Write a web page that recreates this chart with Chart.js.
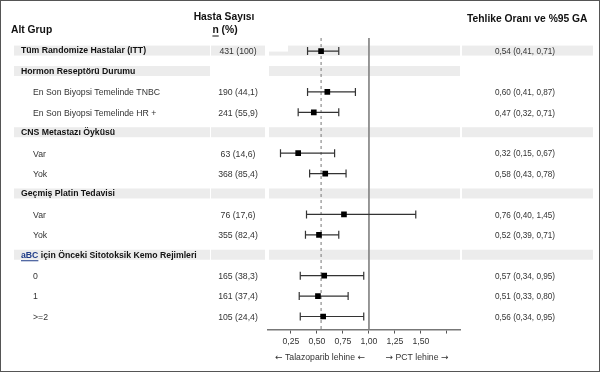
<!DOCTYPE html>
<html>
<head>
<meta charset="utf-8">
<script src="https://cdn.jsdelivr.net/npm/chart.js@4.4.0/dist/chart.umd.min.js"></script>
<style>
  html, body { margin: 0; padding: 0; background: #fff; }
</style>
</head>
<body>
<canvas id="forest" width="601" height="373"></canvas>
<script>
// rows, top to bottom
const rowLabels = [
  "Tüm Randomize Hastalar (ITT)",
  "Hormon Reseptörü Durumu",
  "En Son Biyopsi Temelinde TNBC",
  "En Son Biyopsi Temelinde HR +",
  "CNS Metastazı Öyküsü",
  "Var",
  "Yok",
  "Geçmiş Platin Tedavisi",
  "Var",
  "Yok",
  "aBC için Önceki Sitotoksik Kemo Rejimleri",
  "0",
  "1",
  ">=2"
];
const rowIsHeader = [true, true, false, false, true, false, false, true, false, false, true, false, false, false];
const patientCounts = ["431 (100)", "", "190 (44,1)", "241 (55,9)", "", "63 (14,6)", "368 (85,4)", "", "76 (17,6)", "355 (82,4)", "", "165 (38,3)", "161 (37,4)", "105 (24,4)"];
const hazardRatio = [0.54, null, 0.60, 0.47, null, 0.32, 0.58, null, 0.76, 0.52, null, 0.57, 0.51, 0.56];
const ciLower     = [0.41, null, 0.41, 0.32, null, 0.15, 0.43, null, 0.40, 0.39, null, 0.34, 0.33, 0.34];
const ciUpper     = [0.71, null, 0.87, 0.71, null, 0.67, 0.78, null, 1.45, 0.71, null, 0.95, 0.80, 0.95];
const xTicks = [0.25, 0.50, 0.75, 1.00, 1.25, 1.50, 1.75];
const overallHR = 0.54;
const noEffectHR = 1.00;

const FONT = '"Liberation Sans", Arial, sans-serif';
const fmt = v => v.toFixed(2).replace('.', ',');

const plotRows = hazardRatio.map((v, i) => v == null ? -1 : i).filter(i => i >= 0);
const squares = plotRows.map(i => ({ x: hazardRatio[i], y: i }));
const caps = [];
const whiskers = [];
plotRows.forEach(i => {
  caps.push({ x: ciLower[i], y: i }, { x: ciUpper[i], y: i });
  whiskers.push({ x: ciLower[i], y: i }, { x: ciUpper[i], y: i }, { x: null, y: null });
});

const Y_MIN = -0.64, Y_MAX = 13.64;

// caption with arrows drawn in DejaVu so they come out full width
function arrowCaption(ctx, parts, cx, cy) {
  const fonts = parts.map(p => p.arrow ? '9px "DejaVu Sans"' : '8.7px ' + FONT);
  let total = 0;
  const widths = parts.map((p, k) => { ctx.font = fonts[k]; const w = ctx.measureText(p.t).width; total += w; return w; });
  let px = cx - total / 2;
  ctx.textAlign = 'left';
  parts.forEach((p, k) => { ctx.font = fonts[k]; ctx.fillText(p.t, px, cy); px += widths[k]; });
}

const tablePlugin = {
  id: 'tablePlugin',
  beforeDatasetsDraw(chart) {
    const ctx = chart.ctx;
    const y = chart.scales.y;
    ctx.save();
    ctx.fillStyle = '#ececec';
    rowLabels.forEach((_, i) => {
      if (!rowIsHeader[i]) return;
      const py = y.getPixelForValue(i);
      const t = py - 5.5, h = 10;
      ctx.fillRect(14, t, 196, h);
      if (i !== 1) ctx.fillRect(211, t, 54, h);
      if (i === 0) {
        ctx.fillRect(269, t + 6, 19, h - 6);
        ctx.fillRect(288, t, 172, h);
      } else {
        ctx.fillRect(269, t, 191, h);
      }
      if (i !== 1) ctx.fillRect(462, t, 131, h);
    });
    ctx.restore();
  },
  afterDraw(chart) {
    const ctx = chart.ctx;
    const y = chart.scales.y;
    ctx.save();
    ctx.textBaseline = 'middle';

    // column headers
    ctx.fillStyle = '#111';
    ctx.font = 'bold 10.3px ' + FONT;
    ctx.textAlign = 'left';
    ctx.fillText('Alt Grup', 11, 30);
    ctx.fillText('Tehlike Oranı ve %95 GA', 467, 19);
    ctx.textAlign = 'center';
    ctx.fillText('Hasta Sayısı', 224, 17);
    ctx.textAlign = 'left';
    const nStr = 'n (%)';
    const nW = ctx.measureText(nStr).width;
    const nX = 225 - nW / 2;
    ctx.fillText(nStr, nX, 30);
    const nOnly = ctx.measureText('n').width;
    ctx.fillRect(nX, 35.5, nOnly, 1);

    rowLabels.forEach((label, i) => {
      const py = y.getPixelForValue(i);
      if (rowIsHeader[i]) {
        ctx.font = 'bold 8.7px ' + FONT;
        ctx.textAlign = 'left';
        if (label.startsWith('aBC')) {
          ctx.fillStyle = '#1f3c88';
          ctx.fillText('aBC', 21, py);
          const w = ctx.measureText('aBC').width;
          ctx.fillRect(21, py + 5, w, 1);
          ctx.fillStyle = '#111';
          ctx.fillText(label.slice(3), 21 + w, py);
        } else {
          ctx.fillStyle = '#111';
          ctx.fillText(label, 21, py);
        }
      } else {
        ctx.font = '8.7px ' + FONT;
        ctx.fillStyle = '#333';
        ctx.textAlign = 'left';
        ctx.fillText(label, 33, py + 1);
      }
      ctx.font = '8.7px ' + FONT;
      ctx.fillStyle = '#333';
      if (patientCounts[i]) {
        ctx.textAlign = 'center';
        ctx.fillText(patientCounts[i], 238, py + 1);
      }
      if (hazardRatio[i] != null) {
        ctx.textAlign = 'center';
        ctx.font = '8.2px ' + FONT;
        ctx.fillText(fmt(hazardRatio[i]) + ' (' + fmt(ciLower[i]) + ', ' + fmt(ciUpper[i]) + ')', 525, py + 1);
      }
    });

    // direction captions
    ctx.fillStyle = '#333';
    arrowCaption(ctx, [{ t: '←', arrow: true }, { t: ' Talazoparib lehine ' }, { t: '←', arrow: true }], 320, 358);
    arrowCaption(ctx, [{ t: '→', arrow: true }, { t: ' PCT lehine ' }, { t: '→', arrow: true }], 417, 358);

    // frame
    ctx.strokeStyle = '#555';
    ctx.lineWidth = 1;
    ctx.strokeRect(0.5, 0.5, 599, 371);
    ctx.restore();
  }
};

new Chart(document.getElementById('forest'), {
  type: 'scatter',
  data: {
    datasets: [
      {
        label: 'HR',
        data: squares,
        pointStyle: 'rect',
        pointRadius: 4,
        backgroundColor: '#000',
        borderColor: '#000',
        borderWidth: 0
      },
      {
        label: 'caps',
        data: caps,
        pointStyle: 'line',
        rotation: 90,
        pointRadius: 4,
        borderColor: '#333',
        borderWidth: 1.2
      },
      {
        label: 'CI',
        data: whiskers,
        showLine: true,
        spanGaps: false,
        pointRadius: 0,
        borderColor: '#333',
        borderWidth: 1.2
      },
      {
        label: 'overall',
        data: [{ x: overallHR, y: Y_MIN }, { x: overallHR, y: Y_MAX }],
        showLine: true,
        pointRadius: 0,
        borderColor: '#777',
        borderWidth: 1,
        borderDash: [3, 3]
      },
      {
        label: 'null',
        data: [{ x: noEffectHR, y: Y_MIN }, { x: noEffectHR, y: Y_MAX }],
        showLine: true,
        pointRadius: 0,
        borderColor: '#8a8a8a',
        borderWidth: 1
      }
    ]
  },
  options: {
    responsive: false,
    animation: false,
    layout: { padding: { left: 268, right: 141, top: 38, bottom: 23 } },
    plugins: { legend: { display: false }, tooltip: { enabled: false } },
    scales: {
      x: {
        type: 'linear',
        min: 0.03,
        max: 1.875,
        afterBuildTicks: s => { s.ticks = xTicks.map(v => ({ value: v })); },
        ticks: {
          callback: v => (v === 1.75 ? '' : fmt(v)),
          font: { family: FONT, size: 8.7 },
          color: '#333',
          padding: 3,
          maxRotation: 0,
          autoSkip: false
        },
        grid: { drawOnChartArea: false, tickLength: 4, color: '#555' },
        border: { color: '#777', width: 1.5 }
      },
      y: {
        type: 'linear',
        reverse: true,
        min: Y_MIN,
        max: Y_MAX,
        display: false
      }
    }
  },
  plugins: [tablePlugin]
});
</script>
</body>
</html>
